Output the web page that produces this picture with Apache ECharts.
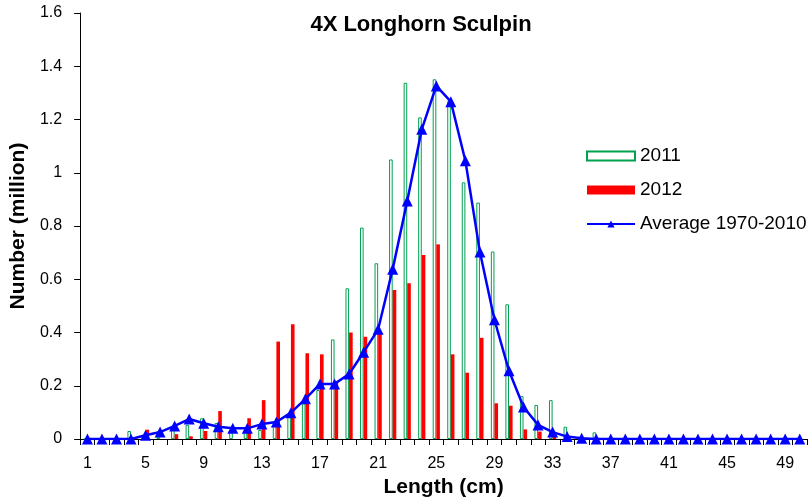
<!DOCTYPE html>
<html>
<head>
<meta charset="utf-8">
<script src="https://cdn.jsdelivr.net/npm/echarts@6/dist/echarts.min.js"></script>
<style>
html,body{margin:0;padding:0;background:#fff;}
#c{width:812px;height:503px;}
</style>
</head>
<body>
<div id="c"></div>
<script>
var lengths = ['1','2','3','4','5','6','7','8','9','10','11','12','13','14','15','16','17','18','19','20','21','22','23','24','25','26','27','28','29','30','31','32','33','34','35','36','37','38','39','40','41','42','43','44','45','46','47','48','49','50'];
var y2011 = [0,0,0,0.03,0,0.01,0.035,0.053,0.078,0.06,0.034,0.03,0.034,0.053,0.084,0.134,0.184,0.374,0.566,0.794,0.66,1.05,1.338,1.208,1.351,1.27,0.964,0.888,0.704,0.506,0.161,0.128,0.146,0.046,0,0.025,0,0,0,0,0,0,0,0,0,0,0,0,0,0];
var y2012 = [0,0,0,0,0.035,0,0.018,0.01,0.03,0.105,0,0.078,0.146,0.366,0.431,0.322,0.318,0.215,0.4,0.384,0.397,0.56,0.585,0.691,0.731,0.318,0.249,0.38,0.134,0.125,0.036,0.028,0.011,0,0,0,0,0,0,0,0,0,0,0,0,0,0,0,0,0];
var avg = [0,0,0,0,0.014,0.026,0.049,0.075,0.059,0.046,0.04,0.04,0.056,0.064,0.099,0.151,0.207,0.207,0.244,0.326,0.412,0.638,0.894,1.163,1.326,1.267,1.045,0.702,0.448,0.256,0.12,0.053,0.026,0.009,0.003,0,0,0,0,0,0,0,0,0,0,0,0,0,0,0];
var yTicks = ['0','0.2','0.4','0.6','0.8','1','1.2','1.4','1.6'];

var FONT = '"Liberation Sans", Arial, sans-serif';
var chart = echarts.init(document.getElementById('c'), null, {renderer:'canvas'});
chart.setOption({
  animation: false,
  backgroundColor: '#fff',
  title: {
    text: '4X Longhorn Sculpin',
    left: 416, top: 9, textAlign: 'center',
    textStyle: {fontFamily: FONT, fontSize: 22, fontWeight: 'bold', color: '#000'}
  },
  legend: {
    orient: 'vertical',
    left: 581, top: 141,
    itemWidth: 48, itemHeight: 9, itemGap: 14,
    textStyle: {fontFamily: FONT, fontSize: 19, color: '#000', lineHeight: 20},
    data: [
      {name: '2011', icon: 'rect'},
      {name: '2012', icon: 'rect'},
      {name: 'Average 1970-2010'}
    ]
  },
  grid: {left: 80, right: 5, top: 13, bottom: 64, containLabel: false},
  xAxis: {
    type: 'category',
    data: lengths,
    boundaryGap: true,
    name: 'Length (cm)',
    nameLocation: 'middle',
    nameGap: 38,
    nameTextStyle: {fontFamily: FONT, fontSize: 21, fontWeight: 'bold', color: '#000'},
    axisLine: {show: true, lineStyle: {color: '#000', width: 1}},
    axisTick: {show: true, interval: 0, length: 6, lineStyle: {color: '#000'}},
    axisLabel: {interval: 3, margin: 17, fontFamily: FONT, fontSize: 16, color: '#000'},
    splitLine: {show: false}
  },
  yAxis: {
    type: 'value',
    min: 0, max: 1.6, interval: 0.2,
    name: 'Number (million)',
    nameLocation: 'middle',
    nameGap: 48,
    nameRotate: 90,
    nameTextStyle: {fontFamily: FONT, fontSize: 21, fontWeight: 'bold', color: '#000'},
    axisLine: {show: true, lineStyle: {color: '#000', width: 1}},
    axisTick: {show: true, length: 6, lineStyle: {color: '#000'}},
    axisLabel: {margin: 18, fontFamily: FONT, fontSize: 16, color: '#000',
      formatter: function(v){ return yTicks[Math.round(v / 0.2)]; }},
    splitLine: {show: false}
  },
  series: [
    {
      name: '2011', type: 'bar', data: y2011,
      barWidth: 3.6, barGap: '0%',
      itemStyle: {color: '#ffffff', borderColor: '#00a050', borderWidth: 1}
    },
    {
      name: '2012', type: 'bar', data: y2012,
      barWidth: 3.6, barGap: '0%',
      itemStyle: {color: '#ff0000'}
    },
    {
      name: 'Average 1970-2010', type: 'line', data: avg,
      symbol: 'triangle', symbolSize: 11, showAllSymbol: true,
      z: 5,
      lineStyle: {color: '#0000ff', width: 2.5},
      itemStyle: {color: '#0000ff'}
    }
  ]
});
</script>
</body>
</html>
